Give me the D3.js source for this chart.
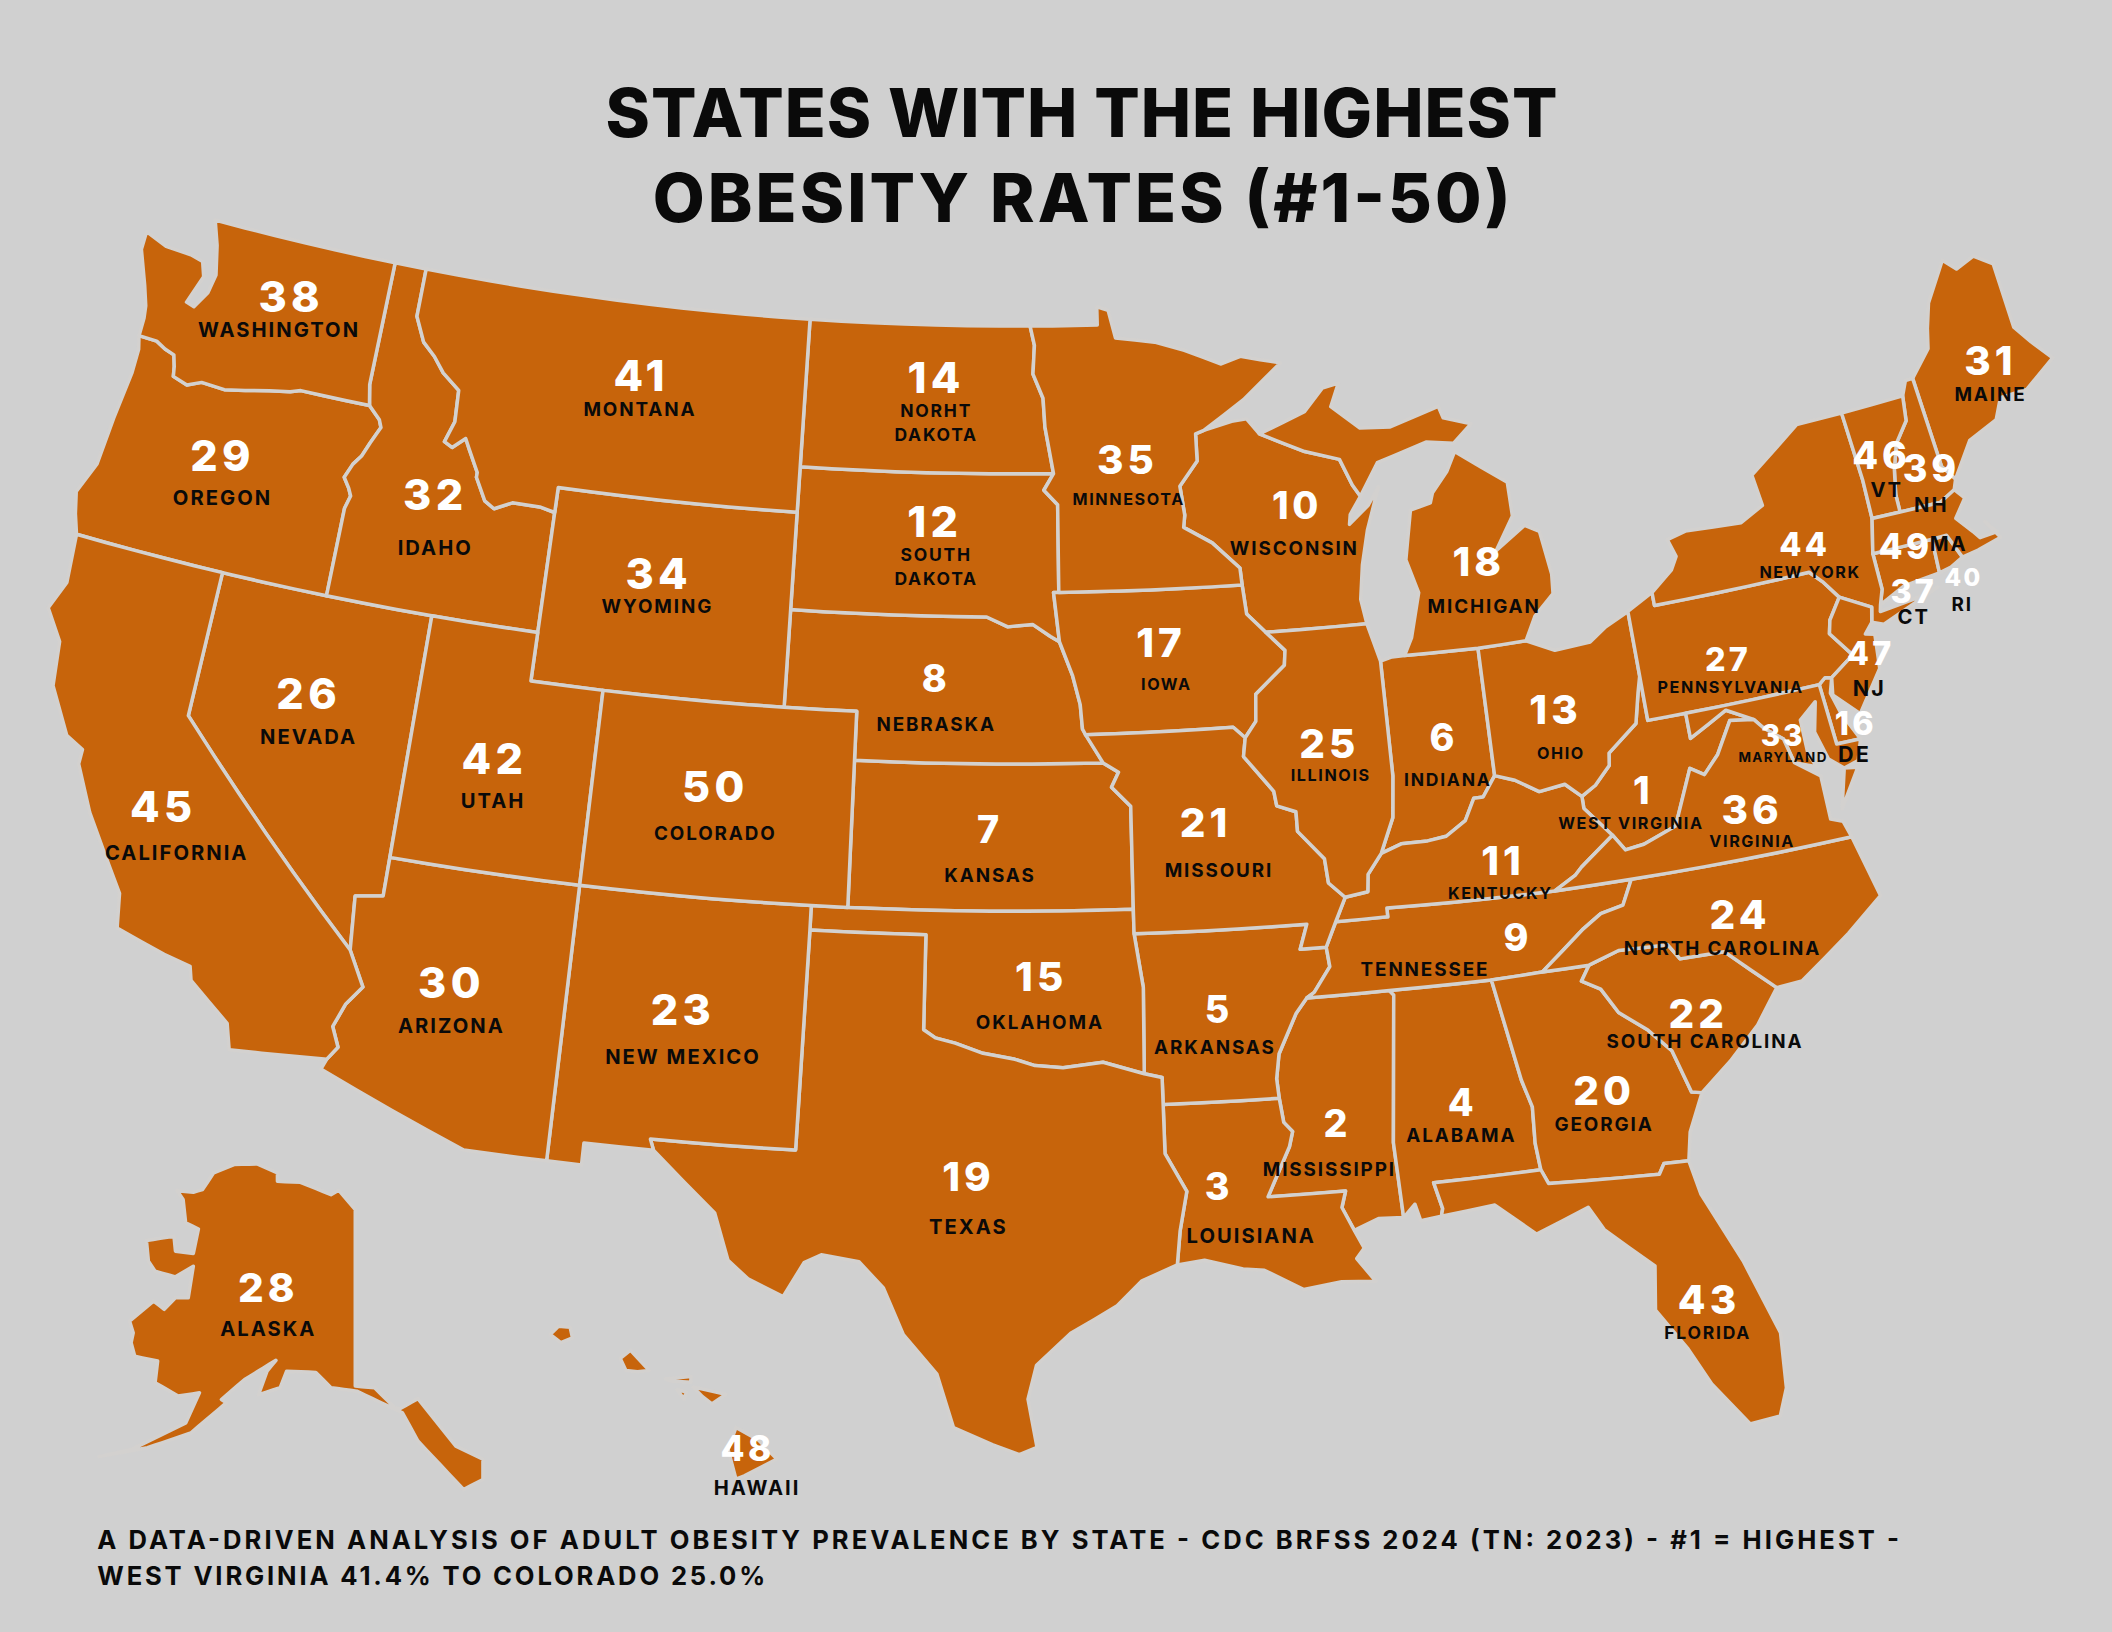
<!DOCTYPE html>
<html>

<head>
  <meta charset="UTF-8">
  <script src="https://d3js.org/d3.v7.js"></script>
  <style>
    html, body { margin: 0; padding: 0; background: #d0d0d0; }
    svg { display: block; }
    text { font-family: Inter, "Open Sans", sans-serif; text-anchor: middle; }
  </style>
</head>

<body>
  <div id="chart"></div>

  <script>
    // data

    const stateCodes = ["WV","MS","LA","AL","AR","IN","KS","NE","TN","WI","KY","SD","OH","ND","OK","DE","IA","MI","TX","GA","MO","SC","NM","NC","IL","NV","PA","AK","OR","AZ","ME","ID","MD","WY","MN","VA","CT","WA","NH","RI","MT","UT","FL","NY","CA","VT","NJ","HI","MA","CO"];
    const stateRanks = d3.range(1, 51);
    const stateLabels = ["WEST VIRGINIA","MISSISSIPPI","LOUISIANA","ALABAMA","ARKANSAS","INDIANA","KANSAS","NEBRASKA","TENNESSEE","WISCONSIN","KENTUCKY","SOUTH\nDAKOTA","OHIO","NORHT\nDAKOTA","OKLAHOMA","DE","IOWA","MICHIGAN","TEXAS","GEORGIA","MISSOURI","SOUTH CAROLINA","NEW MEXICO","NORTH CAROLINA","ILLINOIS","NEVADA","PENNSYLVANIA","ALASKA","OREGON","ARIZONA","MAINE","IDAHO","MARYLAND","WYOMING","MINNESOTA","VIRGINIA","CT","WASHINGTON","NH","RI","MONTANA","UTAH","FLORIDA","NEW YORK","CALIFORNIA","VT","NJ","HAWAII","MA","COLORADO"];

    const titleLines = ["STATES WITH THE HIGHEST", "OBESITY RATES (#1-50)"];
    const footerLines = [
      "A DATA-DRIVEN ANALYSIS OF ADULT OBESITY PREVALENCE BY STATE - CDC BRFSS 2024 (TN: 2023) - #1 = HIGHEST -",
      "WEST VIRGINIA 41.4% TO COLORADO 25.0%"
    ];

    // outlines, lon/lat

    const WA = [[-122.76,49],[-122.5,48.5],[-122.3,47.9],[-122.4,47.5],[-122.7,47.15],[-122.95,47.2],[-122.65,47.8],[-122.8,48.1],[-123.2,48.17],[-124,48.2],[-124.7,48.38],[-124.7,48],[-124.3,47.3],[-124.1,46.9],[-124.05,46.65],[-124.05,46.27],[-123.5,46.26],[-123.2,46.15],[-122.9,46.08],[-122.8,45.85],[-122.75,45.65],[-122.3,45.55],[-121.9,45.68],[-121.2,45.65],[-120.6,45.74],[-119.9,45.85],[-119.3,45.93],[-119,46],[-116.92,46],[-116.95,46.1],[-117.04,46.42],[-117.03,49]];
    const OR = [[-124.05,46.27],[-123.5,46.26],[-123.2,46.15],[-122.9,46.08],[-122.8,45.85],[-122.75,45.65],[-122.3,45.55],[-121.9,45.68],[-121.2,45.65],[-120.6,45.74],[-119.9,45.85],[-119.3,45.93],[-119,46],[-116.92,46],[-116.55,45.75],[-116.46,45.6],[-116.68,45.25],[-116.85,44.95],[-117.05,44.75],[-117.22,44.45],[-117.03,44.25],[-116.93,44.1],[-117.03,43.83],[-117.03,42],[-124.21,42],[-124.4,42.4],[-124.55,42.84],[-124.2,43.5],[-124.1,44.5],[-123.95,45.5],[-123.95,46]];
    const CA = [[-124.21,42],[-120,42],[-120,39],[-114.63,35],[-114.15,34.3],[-114.5,33.9],[-114.72,33.4],[-114.5,33],[-114.72,32.72],[-117.12,32.53],[-117.3,33.05],[-118.4,33.75],[-118.5,34.03],[-119.2,34.15],[-120.5,34.45],[-120.65,35.15],[-121.9,36.6],[-122.5,37.5],[-122.5,37.8],[-123,38],[-123.7,38.9],[-123.85,39.8],[-124.4,40.4],[-124.1,41]];
    const NV = [[-120,42],[-117.03,42],[-114.04,42],[-114.04,36.2],[-114.75,36.1],[-114.63,35],[-120,39]];
    const ID = [[-117.03,49],[-116.05,49],[-116.05,48],[-115.7,47.5],[-115.3,47.25],[-114.95,46.95],[-114.4,46.65],[-114.35,46],[-114.55,45.56],[-114.3,45.47],[-113.95,45.7],[-113.8,45.5],[-113.45,45.05],[-113.45,44.95],[-113.1,44.5],[-112.8,44.37],[-112.3,44.55],[-111.5,44.55],[-111.05,44.48],[-111.05,42],[-114.04,42],[-117.03,42],[-117.03,43.83],[-116.93,44.1],[-117.03,44.25],[-117.22,44.45],[-117.05,44.75],[-116.85,44.95],[-116.68,45.25],[-116.46,45.6],[-116.55,45.75],[-116.92,46],[-116.95,46.1],[-117.04,46.42]];
    const MT = [[-116.05,49],[-104.05,49],[-104.05,45.94],[-104.05,45],[-111.05,45],[-111.05,44.48],[-111.5,44.55],[-112.3,44.55],[-112.8,44.37],[-113.1,44.5],[-113.45,44.95],[-113.45,45.05],[-113.8,45.5],[-113.95,45.7],[-114.3,45.47],[-114.55,45.56],[-114.35,46],[-114.4,46.65],[-114.95,46.95],[-115.3,47.25],[-115.7,47.5],[-116.05,48]];
    const WY = [[-111.05,45],[-104.05,45],[-104.05,43],[-104.05,41],[-111.05,41],[-111.05,42]];
    const UT = [[-114.04,42],[-111.05,42],[-111.05,41],[-109.05,41],[-109.05,37],[-114.04,37]];
    const CO = [[-109.05,41],[-104.05,41],[-102.05,41],[-102.05,40],[-102.05,37],[-103,37],[-109.05,37]];
    const AZ = [[-114.04,37],[-109.05,37],[-109.05,31.33],[-111.07,31.33],[-114.82,32.5],[-114.72,32.72],[-114.5,33],[-114.72,33.4],[-114.5,33.9],[-114.15,34.3],[-114.63,35],[-114.75,36.1],[-114.04,36.2]];
    const NM = [[-109.05,37],[-103,37],[-103,36.5],[-103.05,32],[-106.6,32],[-106.5,31.78],[-108.2,31.78],[-108.2,31.33],[-109.05,31.33]];
    const ND = [[-104.05,49],[-97.23,49],[-97.1,48.6],[-97.15,48],[-96.85,47.5],[-96.8,46.9],[-96.56,45.94],[-104.05,45.94]];
    const SD = [[-104.05,45.94],[-96.56,45.94],[-96.85,45.6],[-96.45,45.3],[-96.45,43.5],[-96.6,43.5],[-96.45,42.49],[-96.7,42.6],[-97.2,42.85],[-97.9,42.8],[-98.5,43],[-104.05,43]];
    const NE = [[-104.05,43],[-98.5,43],[-97.9,42.8],[-97.2,42.85],[-96.7,42.6],[-96.45,42.49],[-96.1,41.8],[-95.9,41.2],[-95.85,40.7],[-95.31,40],[-102.05,40],[-102.05,41],[-104.05,41]];
    const KS = [[-102.05,40],[-95.31,40],[-94.9,39.8],[-95.1,39.5],[-94.6,39.1],[-94.62,37],[-102.05,37]];
    const OK = [[-103,37],[-102.05,37],[-94.62,37],[-94.62,36.5],[-94.43,35.4],[-94.48,33.64],[-95.5,33.9],[-96.5,33.8],[-97.2,33.85],[-97.7,33.98],[-98.5,34.1],[-99.2,34.3],[-99.7,34.4],[-100,34.56],[-100,36.5],[-103,36.5]];
    const TX = [[-103,36.5],[-100,36.5],[-100,34.56],[-99.7,34.4],[-99.2,34.3],[-98.5,34.1],[-97.7,33.98],[-97.2,33.85],[-96.5,33.8],[-95.5,33.9],[-94.48,33.64],[-94.04,33.55],[-94.04,33],[-94.04,31.99],[-93.55,31.2],[-93.75,30.4],[-93.85,29.7],[-94.7,29.4],[-95.3,28.9],[-96.4,28.35],[-97.2,27.7],[-97.4,27],[-97.2,26],[-97.6,25.85],[-98.2,26.05],[-99.1,26.4],[-99.5,27.5],[-100.3,28.3],[-100.8,29.25],[-101.4,29.77],[-102.3,29.88],[-102.7,29.7],[-103.15,28.98],[-104,29.3],[-104.5,29.65],[-104.9,30.6],[-106.5,31.78],[-106.6,32],[-103.05,32]];
    const MN = [[-97.23,49],[-95.15,49],[-95.15,49.38],[-94.8,49.3],[-94.6,48.72],[-93.4,48.6],[-92.5,48.4],[-91.4,48.07],[-90.8,48.2],[-89.6,48],[-90.8,47.3],[-92.05,46.72],[-92.3,46.66],[-92.3,46.1],[-92.85,45.6],[-92.75,45],[-92.8,44.75],[-92,44.4],[-91.25,43.85],[-91.22,43.5],[-96.45,43.5],[-96.45,45.3],[-96.85,45.6],[-96.56,45.94],[-96.8,46.9],[-96.85,47.5],[-97.15,48],[-97.1,48.6]];
    const IA = [[-96.45,43.5],[-91.22,43.5],[-91.15,42.9],[-90.65,42.5],[-90.15,42.1],[-90.2,41.8],[-91.05,41.25],[-91.1,40.7],[-91.42,40.38],[-91.73,40.61],[-95.77,40.58],[-95.85,40.7],[-95.9,41.2],[-96.1,41.8],[-96.45,42.49],[-96.6,43.5]];
    const MO = [[-95.77,40.58],[-91.73,40.61],[-91.42,40.38],[-91.5,40],[-90.75,39.25],[-90.7,38.95],[-90.2,38.8],[-90.2,38.4],[-89.55,37.8],[-89.5,37.3],[-89.1,36.98],[-89.4,36.5],[-89.7,36],[-90.37,36],[-90.15,36.5],[-94.62,36.5],[-94.62,37],[-94.6,39.1],[-95.1,39.5],[-94.9,39.8],[-95.31,40]];
    const AR = [[-94.62,36.5],[-90.15,36.5],[-90.37,36],[-89.7,36],[-89.65,35.6],[-90.1,35.1],[-90.3,35],[-90.6,34.7],[-91.1,33.9],[-91.2,33.4],[-91.17,33],[-94.04,33],[-94.04,33.55],[-94.48,33.64],[-94.43,35.4]];
    const LA = [[-94.04,33],[-91.17,33],[-91.1,32.5],[-90.9,32.3],[-91,32],[-91.6,31],[-89.73,31],[-89.85,30.67],[-89.6,30.18],[-89.4,29.8],[-89.6,29.6],[-89.2,29.1],[-90,29.15],[-90.9,29.05],[-91.8,29.5],[-92.3,29.55],[-93.2,29.77],[-93.85,29.7],[-93.75,30.4],[-93.55,31.2],[-94.04,31.99]];
    const WI = [[-92.05,46.72],[-91.2,46.87],[-90.75,46.9],[-90.4,46.57],[-89.1,46.13],[-88.1,45.9],[-87.8,45.35],[-87.6,45.1],[-87.95,44.75],[-88,44.55],[-87.4,44.9],[-87.05,45.25],[-87.5,44.4],[-87.75,43.7],[-87.9,43],[-87.8,42.49],[-90.65,42.5],[-91.15,42.9],[-91.22,43.5],[-91.25,43.85],[-92,44.4],[-92.8,44.75],[-92.75,45],[-92.85,45.6],[-92.3,46.1],[-92.3,46.66]];
    const MI_UP = [[-90.4,46.57],[-89,46.95],[-88.4,47.4],[-87.9,47.47],[-88.2,47],[-87.4,46.5],[-86.5,46.45],[-85,46.75],[-84.9,46.5],[-84.1,46.3],[-84.7,45.95],[-85.5,46.05],[-86.5,45.85],[-87,45.75],[-87.6,45.1],[-87.8,45.35],[-88.1,45.9],[-89.1,46.13]];
    const MI = [[-86.85,41.76],[-84.8,41.72],[-83.45,41.73],[-83.1,42.2],[-82.5,42.6],[-82.45,43],[-82.6,43.9],[-83,44.07],[-83.9,43.65],[-83.3,44.3],[-83.3,45],[-84.7,45.78],[-85,45.4],[-85.5,45],[-85.6,44.8],[-86.2,44.7],[-86.5,43.7],[-86.25,43],[-86.6,42.1]];
    const IL = [[-90.65,42.5],[-87.8,42.49],[-87.53,41.7],[-87.53,39.35],[-87.65,38.5],[-88.05,37.8],[-88.45,37.4],[-88.5,37.05],[-89.1,36.98],[-89.5,37.3],[-89.55,37.8],[-90.2,38.4],[-90.2,38.8],[-90.7,38.95],[-90.75,39.25],[-91.5,40],[-91.42,40.38],[-91.1,40.7],[-91.05,41.25],[-90.2,41.8],[-90.15,42.1]];
    const IN = [[-87.53,41.7],[-87.2,41.76],[-86.85,41.76],[-84.8,41.72],[-84.82,39.1],[-85.2,38.7],[-85.45,38.7],[-85.75,38.27],[-86.3,38],[-86.8,37.95],[-87.5,37.95],[-88.05,37.8],[-87.65,38.5],[-87.53,39.35]];
    const OH = [[-84.8,41.72],[-83.45,41.73],[-82.7,41.45],[-81.7,41.5],[-81.2,41.75],[-80.52,41.98],[-80.52,40.64],[-80.65,40.3],[-80.85,39.7],[-81.7,39.2],[-81.75,38.95],[-82.2,38.6],[-82.6,38.42],[-83,38.72],[-83.7,38.65],[-84.3,38.95],[-84.82,39.1]];
    const KY = [[-89.4,36.5],[-88.05,36.5],[-88.05,36.68],[-83.68,36.6],[-83.1,36.85],[-82.9,37],[-81.97,37.54],[-82.6,38.17],[-82.6,38.42],[-83,38.72],[-83.7,38.65],[-84.3,38.95],[-84.82,39.1],[-85.2,38.7],[-85.45,38.7],[-85.75,38.27],[-86.3,38],[-86.8,37.95],[-87.5,37.95],[-88.05,37.8],[-88.45,37.4],[-88.5,37.05],[-89.1,36.98]];
    const TN = [[-90.3,35],[-90.1,35.1],[-89.65,35.6],[-89.7,36],[-89.4,36.5],[-88.05,36.5],[-88.05,36.68],[-83.68,36.6],[-81.68,36.59],[-82,36.1],[-82.6,36],[-83.1,35.75],[-84.3,35],[-85.6,34.98],[-88.2,35]];
    const MS = [[-91.17,33],[-91.2,33.4],[-91.1,33.9],[-90.6,34.7],[-90.3,35],[-88.2,35],[-88.1,34.9],[-88.47,31.9],[-88.4,30.35],[-89,30.38],[-89.6,30.18],[-89.85,30.67],[-89.73,31],[-91.6,31],[-91,32],[-90.9,32.3],[-91.1,32.5]];
    const AL = [[-88.2,35],[-85.6,34.98],[-85.18,32.87],[-85,32.3],[-85.05,31.55],[-85,31],[-87.6,31],[-87.45,30.45],[-87.5,30.3],[-88,30.25],[-88.1,30.6],[-88.4,30.35],[-88.47,31.9],[-88.1,34.9]];
    const GA = [[-85.6,34.98],[-84.3,35],[-83.1,35],[-83.35,34.7],[-82.9,34.48],[-82.55,33.95],[-81.9,33.5],[-81.4,33],[-81.1,32.1],[-80.85,32.05],[-81.3,31.3],[-81.45,30.72],[-82.05,30.75],[-82.2,30.55],[-84.86,30.7],[-85,31],[-85.05,31.55],[-85,32.3],[-85.18,32.87]];
    const FL = [[-87.6,31],[-85,31],[-84.86,30.7],[-82.2,30.55],[-82.05,30.75],[-81.45,30.72],[-81.3,30],[-80.6,28.5],[-80.05,26.9],[-80.15,25.75],[-80.4,25.2],[-81.1,25.15],[-81.8,26.1],[-82.2,26.9],[-82.8,27.8],[-82.65,28.7],[-83.7,29.6],[-84,30.1],[-85.3,29.7],[-86.2,30.4],[-87.5,30.3],[-87.45,30.45]];
    const SC = [[-83.1,35],[-82.3,35.2],[-81.05,35.15],[-80.8,34.82],[-79.67,34.8],[-78.55,33.87],[-79.2,33.2],[-80,32.6],[-80.85,32.05],[-81.1,32.1],[-81.4,33],[-81.9,33.5],[-82.55,33.95],[-82.9,34.48],[-83.35,34.7]];
    const NC = [[-84.3,35],[-83.1,35.75],[-82.6,36],[-82,36.1],[-81.68,36.59],[-75.87,36.55],[-75.5,35.25],[-76.5,34.65],[-77.9,33.9],[-78.55,33.87],[-79.67,34.8],[-80.8,34.82],[-81.05,35.15],[-82.3,35.2],[-83.1,35]];
    const VA = [[-83.68,36.6],[-81.68,36.59],[-75.87,36.55],[-76,36.9],[-76.3,37],[-76.3,37.9],[-76.9,38.28],[-77.05,38.8],[-77.5,39.1],[-77.72,39.32],[-78.35,39.4],[-78.85,38.77],[-79.3,38.42],[-79.65,38.6],[-80.3,37.5],[-81.2,37.25],[-81.7,37.2],[-81.97,37.54],[-82.9,37],[-83.1,36.85]];
    const VA_SHORE = [[-75.95,37.15],[-75.3,37.9],[-75.65,37.95]];
    const WV = [[-82.6,38.17],[-81.97,37.54],[-81.7,37.2],[-81.2,37.25],[-80.3,37.5],[-79.65,38.6],[-79.3,38.42],[-78.85,38.77],[-78.35,39.4],[-77.72,39.32],[-78.4,39.62],[-79.48,39.2],[-79.48,39.72],[-80.52,39.72],[-80.52,40.64],[-80.65,40.3],[-80.85,39.7],[-81.7,39.2],[-81.75,38.95],[-82.2,38.6],[-82.6,38.42]];
    const MD = [[-79.48,39.72],[-75.79,39.72],[-75.7,38.46],[-75.05,38.45],[-75.25,38.03],[-75.65,37.95],[-76,38.2],[-76.2,38.8],[-76,39.4],[-76.5,39.1],[-76.5,38.4],[-76.35,38.1],[-76.9,38.28],[-77.05,38.8],[-77.5,39.1],[-77.72,39.32],[-78.4,39.62],[-79.48,39.2]];
    const DE = [[-75.79,39.72],[-75.6,39.83],[-75.42,39.8],[-75.55,39.5],[-75.4,39.05],[-75.05,38.45],[-75.7,38.46]];
    const PA = [[-80.52,41.98],[-79.76,42.27],[-79.76,42],[-75.35,42],[-75.05,41.75],[-74.7,41.36],[-75.1,40.95],[-75.2,40.68],[-74.72,40.15],[-75.42,39.8],[-75.6,39.83],[-75.79,39.72],[-79.48,39.72],[-80.52,39.72]];
    const NJ = [[-74.7,41.36],[-73.9,41],[-74,40.7],[-74.25,40.5],[-74,40.45],[-74.1,39.75],[-74.9,38.95],[-75.5,39.45],[-75.42,39.8],[-74.72,40.15],[-75.2,40.68],[-75.1,40.95]];
    const NY = [[-79.76,42.27],[-79.76,42],[-75.35,42],[-75.05,41.75],[-74.7,41.36],[-73.9,41],[-74,40.7],[-73.7,40.6],[-72,41.05],[-72.6,40.95],[-73.7,40.87],[-73.65,41],[-73.5,41.3],[-73.5,42.05],[-73.27,42.75],[-73.25,43.55],[-73.35,45],[-74.7,45],[-75.5,44.6],[-76.3,44.2],[-76.2,43.55],[-76.9,43.3],[-78.5,43.37],[-79.05,43.27],[-78.9,42.9],[-79.1,42.65]];
    const VT = [[-73.35,45],[-71.5,45.01],[-71.6,44.5],[-72.05,44.1],[-72.3,43.6],[-72.45,43.1],[-72.46,42.73],[-73.27,42.75],[-73.25,43.55]];
    const NH = [[-71.5,45.01],[-71.3,45.3],[-71.08,45.3],[-70.98,43.4],[-70.7,43.07],[-70.82,42.87],[-71.3,42.7],[-72.46,42.73],[-72.45,43.1],[-72.3,43.6],[-72.05,44.1],[-71.6,44.5]];
    const ME = [[-71.08,45.3],[-70.4,45.8],[-70.25,46.2],[-70,46.7],[-69.23,47.46],[-68.9,47.2],[-68.3,47.35],[-67.8,47.07],[-67.8,45.7],[-67.45,45.3],[-67,44.85],[-68,44.4],[-68.8,44.4],[-69.1,44],[-70,43.75],[-70.7,43.07],[-70.98,43.4]];
    const MA = [[-73.5,42.05],[-73.27,42.75],[-72.46,42.73],[-71.3,42.7],[-70.82,42.87],[-70.6,42.65],[-71,42.3],[-70.65,41.95],[-70.5,41.78],[-70,41.8],[-70.25,42.07],[-69.95,41.67],[-70.65,41.55],[-71.12,41.5],[-71.38,42.02],[-71.8,42.02]];
    const RI = [[-71.8,42.02],[-71.38,42.02],[-71.12,41.5],[-71.5,41.37],[-71.85,41.32]];
    const CT = [[-73.5,42.05],[-71.8,42.02],[-71.85,41.32],[-72.9,41.25],[-73.65,41],[-73.5,41.3]];

    // insets, degrees
    const AK = [[-156.66,71.29],[-153.69,71.32],[-151.06,70.88],[-151.06,70.46],[-148.09,70.41],[-144.14,69.8],[-143.15,70.02],[-141,69.06],[-141,60.32],[-138.5,60.24],[-135.9,59.25],[-135.24,59.2],[-132.9,59.7],[-128,57.35],[-124.5,56.7],[-124.5,55.7],[-127,55.2],[-132.9,57.6],[-134.9,59],[-140.8,60.07],[-144.14,60.24],[-146.1,61],[-149.87,61.06],[-150.7,60.24],[-153.5,59.9],[-152.4,61.06],[-151.25,61.6],[-155.3,60.65],[-158.3,59.66],[-157.65,59.5],[-162.26,58],[-167.86,57.27],[-174.1,56.83],[-169.84,57.2],[-162.9,58.5],[-161.14,59.99],[-163.9,59.83],[-166.87,60.49],[-166.54,61.56],[-169.5,61.8],[-169.97,62.47],[-169.7,62.96],[-170.17,63.54],[-167.07,64.53],[-165.69,64.12],[-164.24,64.69],[-162.59,64.69],[-161.93,66.26],[-164.24,65.73],[-166.87,66.01],[-167.73,66.5],[-167.99,67.53],[-164.43,67.74],[-164.24,67],[-161.93,66.89],[-161.27,68.1],[-162.92,68.4],[-163.25,69.56],[-164.04,70],[-161.93,69.92],[-160.74,70.05],[-159.3,70.88]];
    const KAUAI = [[-159.78,22.05],[-159.6,22.22],[-159.35,22.2],[-159.3,21.98],[-159.55,21.88]];
    const OAHU = [[-158.27,21.55],[-158.05,21.72],[-157.65,21.3],[-157.9,21.27],[-158.15,21.3]];
    const MOLOKAI = [[-157.3,21.12],[-156.75,21.17],[-156.75,21.05],[-157.2,21.08]];
    const LANAI = [[-157.05,20.9],[-156.85,20.85],[-156.9,20.7]];
    const MAUI = [[-156.7,20.95],[-156.45,20.9],[-156,20.8],[-156.3,20.6],[-156.5,20.75]];
    const BIG_ISLAND = [[-155.78,20.11],[-155.3,19.85],[-154.9,19.45],[-155.6,19.1],[-155.78,19.03],[-155.95,19.65]];

    const outlines = {
      WA:[WA], OR:[OR], CA:[CA], NV:[NV], ID:[ID], MT:[MT], WY:[WY], UT:[UT], CO:[CO], AZ:[AZ], NM:[NM],
      ND:[ND], SD:[SD], NE:[NE], KS:[KS], OK:[OK], TX:[TX], MN:[MN], IA:[IA], MO:[MO], AR:[AR], LA:[LA],
      WI:[WI], MI:[MI_UP, MI], IL:[IL], IN:[IN], OH:[OH], KY:[KY], TN:[TN], MS:[MS], AL:[AL], GA:[GA], FL:[FL],
      SC:[SC], NC:[NC], VA:[VA, VA_SHORE], WV:[WV], MD:[MD], DE:[DE], PA:[PA], NJ:[NJ], NY:[NY], VT:[VT], NH:[NH],
      ME:[ME], MA:[MA], RI:[RI], CT:[CT], AK:[AK], HI:[KAUAI, OAHU, MOLOKAI, LANAI, MAUI, BIG_ISLAND]
    };

    // set up

    const width = 1568;
    const height = 1212;

    const svg = d3.select('#chart')
      .append('svg')
        .attr('width', 2112)
        .attr('height', 1632)
        .attr('viewBox', `0 0 ${width} ${height}`);

    svg.append('rect').attr('width', width).attr('height', height).attr('fill', '#d0d0d0');

    // projections

    const albers = d3.geoConicEqualArea()
        .parallels([29.5, 45.5])
        .rotate([97.7, 0])
        .center([0, 37.5])
        .scale(2068)
        .translate([753.5, 658.5]);

    const akX = d3.scaleLinear().domain([-141, -131]).range([263.6, 321.06]);
    const akY = d3.scaleLinear().domain([60.3, 70.3]).range([1029.7, 879.7]);
    const hiX = d3.scaleLinear().domain([-159.5, -155.5]).range([418, 556]);
    const hiY = d3.scaleLinear().domain([22.05, 19.05]).range([991, 1097.8]);

    function planar(fn) {
      return d3.geoPath(d3.geoTransform({
        point(x, y) { const p = fn(x, y); this.stream.point(p[0], p[1]); }
      }));
    }

    const paths = {
      main: planar((x, y) => albers([x, y])),
      AK: planar((x, y) => [akX(x), akY(y)]),
      HI: planar((x, y) => [hiX(x), hiY(y)])
    };

    // long straight borders follow the parallels, so add vertices along them
    function dense(ring) {
      const out = [];
      ring.concat([ring[0]]).forEach((p, i, a) => {
        if (i === 0) { out.push(p); return; }
        const q = a[i - 1];
        const n = Math.ceil(Math.abs(p[0] - q[0]));
        for (let k = 1; k <= Math.max(n, 1); k++) {
          out.push([q[0] + (p[0] - q[0]) * k / Math.max(n, 1), q[1] + (p[1] - q[1]) * k / Math.max(n, 1)]);
        }
      });
      return out;
    }

    // draw states

    const features = stateCodes.map(code => ({
      type: 'Feature',
      properties: { code },
      geometry: { type: 'MultiPolygon', coordinates: outlines[code].map(r => [dense(r)]) }
    }));

    svg.append('g')
      .selectAll('path')
      .data(features)
      .join('path')
        .attr('d', d => (paths[d.properties.code] || paths.main)(d))
        .attr('fill', '#c7640b')
        .attr('stroke', '#d3d1cf')
        .attr('stroke-width', 2.6)
        .attr('stroke-linejoin', 'round');

    // title and footer

    svg.selectAll('.title')
      .data(titleLines)
      .join('text')
        .attr('class', 'title')
        .attr('x', 803)
        .attr('y', (d, i) => 102 + i * 63)
        .attr('font-size', 50)
        .attr('font-weight', 800)
        .attr('fill', '#0a0a0a')
        .attr('textLength', (d, i) => [707, 637][i])
        .text(d => d);

    svg.selectAll('.footer')
      .data(footerLines)
      .join('text')
        .attr('class', 'footer')
        .attr('x', 72)
        .attr('y', (d, i) => 1150 + i * 27)
        .attr('font-size', 19)
        .attr('font-weight', 700)
        .attr('fill', '#0a0a0a')
        .attr('textLength', (d, i) => [1338, 496][i])
        .style('text-anchor', 'start')
        .text(d => d);

    // state labels: [number x, number y, name x, name y, number size, name size]

    const labelLayout = {
      WA:[216,220,207,245,32,15], OR:[165,338,165,370,32,15], CA:[121,599,131,633,32,15], NV:[229,515,229,547,32,15],
      ID:[323,367,323,407,32,15], MT:[476,279,475,304,32,14], WY:[489,426,488,450,32,14], UT:[367,563,366,595,32,15],
      CO:[531,584,531,619,32,14], AZ:[335,730,335,762,32,15], NM:[507,750,507,785,32,15], ND:[695,280,695,305,32,13],
      SD:[694,387,695,412,32,13], NE:[695,504,695,538,28,14], KS:[735,616,735,650,28,14], OK:[773,725,772,759,30,14],
      TX:[719,874,719,911,30,15], MN:[837,341,838,371,30,12], IA:[862,477,866,508,30,12], MO:[895,611,905,646,30,14],
      AR:[905,750,902,778,28,14], LA:[905,881,929,918,28,15], WI:[963,375,961,407,28,14], IL:[987,552,988,576,30,12],
      MS:[993,834,987,868,28,14], AL:[1086,819,1085,843,28,14], MI:[1098,417,1102,450,30,14], IN:[1072,548,1075,579,28,13],
      KY:[1116,639,1114,663,30,12], TN:[1127,696,1058,720,28,14], OH:[1155,527,1159,559,30,12], WV:[1220,587,1211,611,28,12],
      GA:[1191,810,1191,835,30,14], NC:[1292,679,1279,704,30,14], SC:[1261,753,1266,773,30,14], FL:[1269,965,1268,990,30,13],
      VA:[1301,601,1301,625,30,12], MD:[1324,546,1324,562,22,10], PA:[1283,490,1285,510,24,12], NY:[1340,404,1344,425,24,12],
      NJ:[1389,485,1388,511,24,16], DE:[1378,537,1377,560,24,16], CT:[1421,439,1421,458,24,15], MA:[1415,406,1447,404,26,15],
      RI:[1458,429,1457,449,18,14], VT:[1397,338,1401,364,28,15], NH:[1434,348,1434,375,28,15], ME:[1478,268,1478,293,30,14],
      AK:[199,956,199,987,30,15], HI:[555,1076,562,1105,26,15]
    };

    stateCodes.forEach((code, i) => {
      const [nx, ny, lx, ly, ns, ls] = labelLayout[code];
      svg.append('text')
          .attr('x', nx)
          .attr('y', ny)
          .attr('dy', '0.36em')
          .attr('font-size', ns)
          .attr('font-weight', 800)
          .attr('letter-spacing', ns * 0.1)
          .attr('fill', 'white')
          .text(stateRanks[i]);
      stateLabels[i].split('\n').forEach((line, j) => {
        svg.append('text')
            .attr('x', lx)
            .attr('y', ly + j * 18)
            .attr('dy', '0.36em')
            .attr('font-size', ls)
            .attr('font-weight', 700)
            .attr('letter-spacing', ls * 0.1)
            .attr('fill', '#0a0a0a')
            .text(line);
      });
    });
  </script>
</body>

</html>
